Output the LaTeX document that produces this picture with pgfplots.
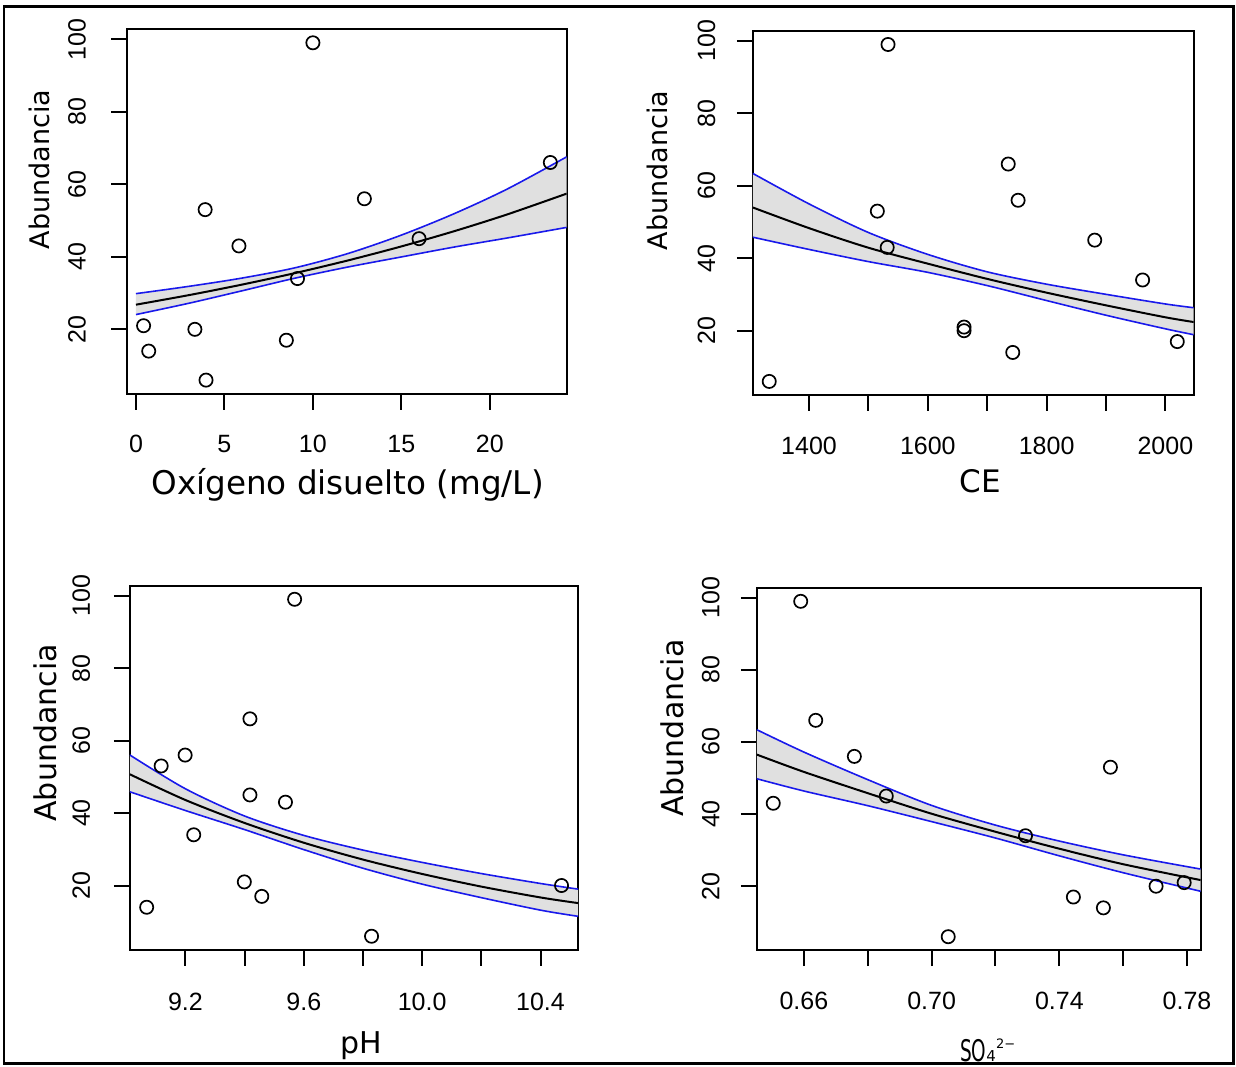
\documentclass[border=0pt]{standalone}
\usepackage{fontspec}
\setmainfont{DejaVu Sans}
\newfontfamily\lib{Liberation Sans}
\usepackage{graphicx}
\usepackage{pgfplots}
\usepgfplotslibrary{fillbetween}
\pgfplotsset{compat=1.18}
\usepackage{pgfplotstable}
\definecolor{band}{RGB}{224,224,224}
\definecolor{ciblue}{RGB}{25,25,235}

% points: x, abundance
\pgfplotstableread{
x y
10.0 99
23.42 66
12.91 56
3.91 53
5.82 43
16.0 45
9.13 34
0.43 21
3.33 20
0.72 14
8.5 17
3.96 6
}\ptsA
\pgfplotstableread{
x y
1533 99
1333 6
1515 53
1531.6 43
1735.4 66
1752 56
1881 45
1961.6 34
1661 21
1661 20
1743 14
2020 17
}\ptsB
\pgfplotstableread{
x y
9.569 99
9.418 66
9.199 56
9.118 53
9.418 45
9.538 43
9.228 34
9.399 21
10.471 20
9.458 17
9.069 14
9.829 6
}\ptsC
\pgfplotstableread{
x y
0.659 99
0.6637 66
0.6758 56
0.756 53
0.6504 43
0.6858 45
0.7294 34
0.7703 20
0.7791 21
0.7444 17
0.7538 14
0.7052 6
}\ptsD

% fitted curve and band: x, fit, upper, lower
\pgfplotstableread{
x b up lo
0 26.80 29.84 24.07
3 29.44 31.86 27.20
6 32.34 34.14 30.63
9 35.52 36.98 34.12
12 39.02 40.93 37.20
15 42.86 45.98 39.96
18 47.08 51.92 42.70
21 51.71 58.72 45.20
24.34 57.41 67.55 48.10
}\fitA
\pgfplotstableread{
x b up lo
1305.5 54.00 63.40 45.80
1400 48.31 55.00 42.43
1500 42.90 47.10 39.07
1600 38.50 41.06 36.10
1700 34.30 36.25 32.45
1800 30.50 32.84 28.32
1900 27.00 30.04 24.27
2000 23.70 27.38 20.52
2047.5 22.40 26.35 18.90
}\fitB
\pgfplotstableread{
x b up lo
9.012 50.70 56.03 45.87
9.2 43.60 46.70 40.70
9.4 37.26 39.18 35.43
9.6 31.81 33.83 29.91
9.8 27.16 29.78 24.77
10.0 23.19 26.38 20.38
10.2 19.70 23.30 16.65
10.4 16.70 20.56 13.20
10.527 15.15 19.00 11.50
}\fitC
\pgfplotstableread{
x b up lo
0.64525 56.50 63.40 49.80
0.66 51.70 57.20 46.40
0.68 45.80 49.55 42.33
0.70 40.10 42.41 37.91
0.72 35.10 36.94 33.36
0.74 30.40 32.52 28.42
0.76 26.10 28.70 23.74
0.78425 21.70 24.75 18.60
}\fitD

\pgfplotsset{
  rpanel/.style={
    scale only axis, anchor=north west,
    ymin=2.28, ymax=102.72,
    ytick={20,40,60,80,100}, yticklabels={20,40,60,80,100},
    tick align=outside, xtick pos=bottom, ytick pos=left,
    major tick length=8pt,
    axis line style={line width=1pt},
    every tick/.style={black, line width=1pt},
    tick label style={font=\lib\fontsize{12.5}{12.5}\selectfont},
    xticklabel style={anchor=center},
    yticklabel style={rotate=90, anchor=center},
  },
  bandfill/.style={fill=band, draw=none},
  ciline/.style={ciblue, line width=0.8pt, smooth},
  fitline/.style={black, line width=1pt, smooth},
  pts/.style={only marks, mark=o, mark size=3.3pt, black, mark options={line width=0.85pt}},
}

\begin{document}
\begin{tikzpicture}

% top left
\begin{axis}[rpanel, at={(63.65pt,-14.65pt)}, width=219.65pt, height=182.15pt,
  xticklabel shift=17.2pt, yticklabel shift=17.1pt,
  xmin=-0.49, xmax=24.34, xtick={0,5,10,15,20}, xticklabels={0,5,10,15,20}]
\addplot[draw=none, smooth, name path=uA] table[x=x,y=up] {\fitA};
\addplot[draw=none, smooth, name path=lA] table[x=x,y=lo] {\fitA};
\addplot[bandfill] fill between[of=uA and lA];
\addplot[ciline] table[x=x,y=up] {\fitA};
\addplot[ciline] table[x=x,y=lo] {\fitA};
\addplot[fitline] table[x=x,y=b] {\fitA};
\addplot[pts] table[x=x,y=y] {\ptsA};
\end{axis}

% top right
\begin{axis}[rpanel, at={(376.45pt,-15.5pt)}, width=220.35pt, height=181.95pt,
  xticklabel shift=17.6pt, yticklabel shift=15.2pt,
  xmin=1305.5, xmax=2047.5, xtick={1400,1500,...,2000},
  xticklabels={1400,,1600,,1800,,2000}]
\addplot[draw=none, smooth, name path=uB] table[x=x,y=up] {\fitB};
\addplot[draw=none, smooth, name path=lB] table[x=x,y=lo] {\fitB};
\addplot[bandfill] fill between[of=uB and lB];
\addplot[ciline] table[x=x,y=up] {\fitB};
\addplot[ciline] table[x=x,y=lo] {\fitB};
\addplot[fitline] table[x=x,y=b] {\fitB};
\addplot[pts] table[x=x,y=y] {\ptsB};
\end{axis}

% bottom left
\begin{axis}[rpanel, at={(64.9pt,-292.9pt)}, width=224.15pt, height=181.95pt,
  xticklabel shift=18pt, yticklabel shift=16.3pt,
  xmin=9.012, xmax=10.527, xtick={9.2,9.4,...,10.4},
  xticklabels={9.2,,9.6,,10.0,,10.4}]
\addplot[draw=none, smooth, name path=uC] table[x=x,y=up] {\fitC};
\addplot[draw=none, smooth, name path=lC] table[x=x,y=lo] {\fitC};
\addplot[bandfill] fill between[of=uC and lC];
\addplot[ciline] table[x=x,y=up] {\fitC};
\addplot[ciline] table[x=x,y=lo] {\fitC};
\addplot[fitline] table[x=x,y=b] {\fitC};
\addplot[pts] table[x=x,y=y] {\ptsC};
\end{axis}

% bottom right
\begin{axis}[rpanel, at={(378.4pt,-293.95pt)}, width=221.9pt, height=181.1pt,
  xticklabel shift=17.5pt, yticklabel shift=15pt,
  xmin=0.64525, xmax=0.78425, xtick={0.66,0.68,...,0.78},
  xticklabels={0.66,,0.70,,0.74,,0.78}]
\addplot[draw=none, smooth, name path=uD] table[x=x,y=up] {\fitD};
\addplot[draw=none, smooth, name path=lD] table[x=x,y=lo] {\fitD};
\addplot[bandfill] fill between[of=uD and lD];
\addplot[ciline] table[x=x,y=up] {\fitD};
\addplot[ciline] table[x=x,y=lo] {\fitD};
\addplot[fitline] table[x=x,y=b] {\fitD};
\addplot[pts] table[x=x,y=y] {\ptsD};
\end{axis}

% axis titles
\node[rotate=90, font=\fontsize{13.5}{13.5}\selectfont] at (19.75pt,-84.75pt) {Abundancia};
\node[rotate=90, font=\fontsize{13.5}{13.5}\selectfont] at (328.65pt,-85.15pt) {Abundancia};
\node[rotate=90, font=\fontsize{15}{15}\selectfont] at (22.75pt,-366.45pt) {Abundancia};
\node[rotate=90, font=\fontsize{15}{15}\selectfont] at (336pt,-364pt) {Abundancia};
\node[anchor=base, font=\fontsize{16.3}{16.3}\selectfont] at (173.8pt,-247.1pt) {Oxígeno disuelto (mg/L)};
\node[anchor=base, font=\fontsize{15.5}{15.5}\selectfont] at (490pt,-246.25pt) {CE};
\node[anchor=base, font=\fontsize{15}{15}\selectfont] at (180.4pt,-526.5pt) {pH};
\node[anchor=base, inner sep=0pt] at (493.85pt,-530.5pt)
  {\scalebox{0.62}[1]{\fontsize{14.9}{15}\selectfont SO}{\fontsize{7.5}{8}\selectfont 4}\raisebox{6.3pt}{\fontsize{6.5}{7}\selectfont 2−}};

% outer frame, also the page size
\draw[line width=1.1pt] (2pt,-3.25pt) rectangle (616.75pt,-531.75pt);
\path (0,0) rectangle (618pt,-533pt);
\end{tikzpicture}
\end{document}
